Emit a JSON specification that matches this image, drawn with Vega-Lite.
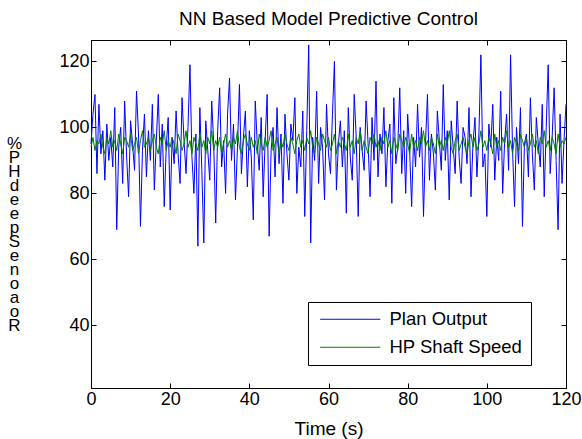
{
"$schema": "https://vega.github.io/schema/vega-lite/v6.json",
"width": 475, "height": 348,
"autosize": {"type": "none"},
"padding": {"left": 91, "top": 40, "right": 16, "bottom": 51},
"background": "white",
"title": {"text": "NN Based Model Predictive Control", "font": "Liberation Sans", "fontSize": 19, "fontWeight": "normal", "color": "black", "offset": 11},
"config": {
  "view": {"stroke": "black", "strokeWidth": 1},
  "axis": {"grid": false, "domainColor": "black", "tickColor": "black", "labelColor": "black", "labelFont": "Liberation Sans", "labelFontSize": 18, "labelFlush": false, "titleFont": "Liberation Sans", "titleFontSize": 19, "titleFontWeight": "normal", "titleColor": "black", "tickSize": -5},
  "axisX": {"labelPadding": 7},
  "axisY": {"labelPadding": 7}
},
"data": {"values": [
{"t":0,"p":95,"h":94},{"t":0.5,"p":104,"h":97},{"t":1,"p":110,"h":93},{"t":1.5,"p":86,"h":96},{"t":2,"p":107,"h":95},{"t":2.5,"p":92,"h":98},{"t":3,"p":99,"h":94},{"t":3.5,"p":84,"h":92},{"t":4,"p":101,"h":97},{"t":4.5,"p":90,"h":95},
{"t":5,"p":97,"h":99},{"t":5.5,"p":88,"h":94},{"t":6,"p":106,"h":96},{"t":6.5,"p":69,"h":93},{"t":7,"p":94,"h":98},{"t":7.5,"p":100,"h":95},{"t":8,"p":83,"h":92},{"t":8.5,"p":108,"h":97},{"t":9,"p":91,"h":96},{"t":9.5,"p":79,"h":94},
{"t":10,"p":102,"h":98},{"t":10.5,"p":95,"h":93},{"t":11,"p":87,"h":95},{"t":11.5,"p":111,"h":97},{"t":12,"p":98,"h":92},{"t":12.5,"p":70,"h":96},{"t":13,"p":93,"h":99},{"t":13.5,"p":104,"h":94},{"t":14,"p":85,"h":95},{"t":14.5,"p":99,"h":97},
{"t":15,"p":90,"h":93},{"t":15.5,"p":107,"h":96},{"t":16,"p":81,"h":98},{"t":16.5,"p":96,"h":94},{"t":17,"p":110,"h":92},{"t":17.5,"p":88,"h":97},{"t":18,"p":101,"h":95},{"t":18.5,"p":76,"h":99},{"t":19,"p":94,"h":93},{"t":19.5,"p":103,"h":96},
{"t":20,"p":75,"h":94},{"t":20.5,"p":97,"h":97},{"t":21,"p":89,"h":95},{"t":21.5,"p":105,"h":92},{"t":22,"p":92,"h":98},{"t":22.5,"p":83,"h":96},{"t":23,"p":109,"h":93},{"t":23.5,"p":96,"h":95},{"t":24,"p":86,"h":99},{"t":24.5,"p":100,"h":94},
{"t":25,"p":119,"h":96},{"t":25.5,"p":91,"h":92},{"t":26,"p":80,"h":97},{"t":26.5,"p":98,"h":95},{"t":27,"p":64,"h":93},{"t":27.5,"p":106,"h":98},{"t":28,"p":87,"h":94},{"t":28.5,"p":65,"h":96},{"t":29,"p":102,"h":92},{"t":29.5,"p":93,"h":97},
{"t":30,"p":84,"h":95},{"t":30.5,"p":108,"h":99},{"t":31,"p":95,"h":93},{"t":31.5,"p":71,"h":96},{"t":32,"p":99,"h":94},{"t":32.5,"p":112,"h":97},{"t":33,"p":88,"h":92},{"t":33.5,"p":96,"h":95},{"t":34,"p":80,"h":98},{"t":34.5,"p":104,"h":94},
{"t":35,"p":115,"h":96},{"t":35.5,"p":90,"h":93},{"t":36,"p":101,"h":97},{"t":36.5,"p":78,"h":95},{"t":37,"p":94,"h":99},{"t":37.5,"p":113,"h":94},{"t":38,"p":86,"h":92},{"t":38.5,"p":97,"h":96},{"t":39,"p":105,"h":98},{"t":39.5,"p":82,"h":95},
{"t":40,"p":99,"h":93},{"t":40.5,"p":91,"h":97},{"t":41,"p":72,"h":94},{"t":41.5,"p":108,"h":96},{"t":42,"p":95,"h":92},{"t":42.5,"p":87,"h":98},{"t":43,"p":103,"h":95},{"t":43.5,"p":79,"h":93},{"t":44,"p":96,"h":97},{"t":44.5,"p":110,"h":94},
{"t":45,"p":67,"h":96},{"t":45.5,"p":93,"h":99},{"t":46,"p":100,"h":93},{"t":46.5,"p":85,"h":95},{"t":47,"p":106,"h":97},{"t":47.5,"p":89,"h":92},{"t":48,"p":98,"h":96},{"t":48.5,"p":77,"h":94},{"t":49,"p":104,"h":98},{"t":49.5,"p":92,"h":95},
{"t":50,"p":84,"h":93},{"t":50.5,"p":101,"h":97},{"t":51,"p":96,"h":95},{"t":51.5,"p":109,"h":92},{"t":52,"p":80,"h":96},{"t":52.5,"p":94,"h":98},{"t":53,"p":88,"h":94},{"t":53.5,"p":105,"h":96},{"t":54,"p":73,"h":93},{"t":54.5,"p":99,"h":97},
{"t":55,"p":125,"h":95},{"t":55.5,"p":65,"h":99},{"t":56,"p":97,"h":94},{"t":56.5,"p":90,"h":92},{"t":57,"p":111,"h":97},{"t":57.5,"p":83,"h":95},{"t":58,"p":100,"h":93},{"t":58.5,"p":94,"h":98},{"t":59,"p":78,"h":96},{"t":59.5,"p":107,"h":94},
{"t":60,"p":92,"h":97},{"t":60.5,"p":86,"h":93},{"t":61,"p":104,"h":95},{"t":61.5,"p":120,"h":98},{"t":62,"p":81,"h":92},{"t":62.5,"p":95,"h":96},{"t":63,"p":102,"h":94},{"t":63.5,"p":88,"h":97},{"t":64,"p":99,"h":95},{"t":64.5,"p":74,"h":93},
{"t":65,"p":106,"h":98},{"t":65.5,"p":91,"h":94},{"t":66,"p":84,"h":96},{"t":66.5,"p":110,"h":92},{"t":67,"p":97,"h":97},{"t":67.5,"p":73,"h":95},{"t":68,"p":100,"h":99},{"t":68.5,"p":93,"h":93},{"t":69,"p":87,"h":96},{"t":69.5,"p":108,"h":94},
{"t":70,"p":95,"h":92},{"t":70.5,"p":79,"h":97},{"t":71,"p":103,"h":95},{"t":71.5,"p":90,"h":98},{"t":72,"p":114,"h":94},{"t":72.5,"p":85,"h":96},{"t":73,"p":98,"h":93},{"t":73.5,"p":92,"h":97},{"t":74,"p":106,"h":95},{"t":74.5,"p":82,"h":99},
{"t":75,"p":96,"h":94},{"t":75.5,"p":101,"h":96},{"t":76,"p":77,"h":92},{"t":76.5,"p":109,"h":97},{"t":77,"p":89,"h":95},{"t":77.5,"p":94,"h":93},{"t":78,"p":112,"h":98},{"t":78.5,"p":86,"h":96},{"t":79,"p":99,"h":94},{"t":79.5,"p":80,"h":97},
{"t":80,"p":104,"h":95},{"t":80.5,"p":93,"h":92},{"t":81,"p":76,"h":98},{"t":81.5,"p":97,"h":94},{"t":82,"p":88,"h":96},{"t":82.5,"p":107,"h":93},{"t":83,"p":91,"h":97},{"t":83.5,"p":100,"h":95},{"t":84,"p":73,"h":99},{"t":84.5,"p":95,"h":94},
{"t":85,"p":110,"h":96},{"t":85.5,"p":84,"h":93},{"t":86,"p":98,"h":97},{"t":86.5,"p":92,"h":95},{"t":87,"p":81,"h":92},{"t":87.5,"p":105,"h":98},{"t":88,"p":96,"h":94},{"t":88.5,"p":87,"h":96},{"t":89,"p":113,"h":93},{"t":89.5,"p":90,"h":97},
{"t":90,"p":99,"h":95},{"t":90.5,"p":78,"h":99},{"t":91,"p":102,"h":94},{"t":91.5,"p":94,"h":92},{"t":92,"p":86,"h":96},{"t":92.5,"p":108,"h":98},{"t":93,"p":91,"h":93},{"t":93.5,"p":83,"h":95},{"t":94,"p":100,"h":97},{"t":94.5,"p":97,"h":94},
{"t":95,"p":89,"h":92},{"t":95.5,"p":106,"h":96},{"t":96,"p":79,"h":98},{"t":96.5,"p":95,"h":94},{"t":97,"p":103,"h":97},{"t":97.5,"p":85,"h":93},{"t":98,"p":98,"h":95},{"t":98.5,"p":122,"h":99},{"t":99,"p":88,"h":94},{"t":99.5,"p":92,"h":96},
{"t":100,"p":73,"h":93},{"t":100.5,"p":101,"h":97},{"t":101,"p":94,"h":95},{"t":101.5,"p":107,"h":92},{"t":102,"p":84,"h":98},{"t":102.5,"p":97,"h":94},{"t":103,"p":90,"h":96},{"t":103.5,"p":111,"h":93},{"t":104,"p":80,"h":97},{"t":104.5,"p":96,"h":95},
{"t":105,"p":104,"h":99},{"t":105.5,"p":87,"h":94},{"t":106,"p":122,"h":96},{"t":106.5,"p":93,"h":92},{"t":107,"p":76,"h":97},{"t":107.5,"p":100,"h":95},{"t":108,"p":89,"h":93},{"t":108.5,"p":106,"h":98},{"t":109,"p":70,"h":96},{"t":109.5,"p":95,"h":94},
{"t":110,"p":98,"h":97},{"t":110.5,"p":85,"h":93},{"t":111,"p":109,"h":95},{"t":111.5,"p":92,"h":98},{"t":112,"p":81,"h":94},{"t":112.5,"p":103,"h":96},{"t":113,"p":95,"h":92},{"t":113.5,"p":88,"h":97},{"t":114,"p":107,"h":95},{"t":114.5,"p":79,"h":99},
{"t":115,"p":100,"h":94},{"t":115.5,"p":119,"h":96},{"t":116,"p":86,"h":93},{"t":116.5,"p":97,"h":97},{"t":117,"p":112,"h":95},{"t":117.5,"p":90,"h":92},{"t":118,"p":69,"h":98},{"t":118.5,"p":104,"h":94},{"t":119,"p":83,"h":96},{"t":119.5,"p":96,"h":95},
{"t":120,"p":107,"h":97}
]},
"transform": [{"fold": ["p", "h"], "as": ["s", "v"]}],
"layer": [
  {"mark": {"type": "line", "strokeWidth": 1},
   "encoding": {
     "x": {"field": "t", "type": "quantitative", "scale": {"domain": [0, 120], "nice": false}, "axis": {"values": [0, 20, 40, 60, 80, 100, 120], "title": "Time (s)", "titlePadding": 11}},
     "y": {"field": "v", "type": "quantitative", "scale": {"domain": [21, 126.5], "nice": false, "zero": false}, "axis": {"values": [40, 60, 80, 100, 120], "title": ["%","P","H","d","e","e","p","S","e","n","o","a","o","R"], "titleAngle": 0, "titleX": -77, "titleY": 95, "titleAlign": "center", "titleBaseline": "top", "titleLineHeight": 14, "titleFontSize": 17}},
     "color": {"field": "s", "type": "nominal", "scale": {"domain": ["p", "h"], "range": ["#0000ff", "#008000"]},
       "legend": {"title": null, "orient": "none", "legendX": 217, "legendY": 262, "strokeColor": "black", "fillColor": "white", "padding": 8, "rowPadding": 9,
         "symbolType": "M-4.3,0H4.3", "symbolSize": 196, "symbolOffset": 25, "symbolStrokeWidth": 1, "labelOffset": 30,
         "labelFont": "Liberation Sans", "labelFontSize": 18.5, "labelColor": "black",
         "labelExpr": "datum.value === 'p' ? 'Plan Output' : 'HP Shaft Speed'"}}
   }},
  {"mark": {"type": "point", "opacity": 0, "size": 0},
   "encoding": {
     "x": {"field": "t", "type": "quantitative", "axis": {"orient": "top", "values": [0, 20, 40, 60, 80, 100, 120], "labels": false, "title": null}},
     "y": {"field": "v", "type": "quantitative", "axis": {"orient": "right", "values": [40, 60, 80, 100, 120], "labels": false, "title": null}}
   }}
],
"resolve": {"axis": {"x": "independent", "y": "independent"}}
}
